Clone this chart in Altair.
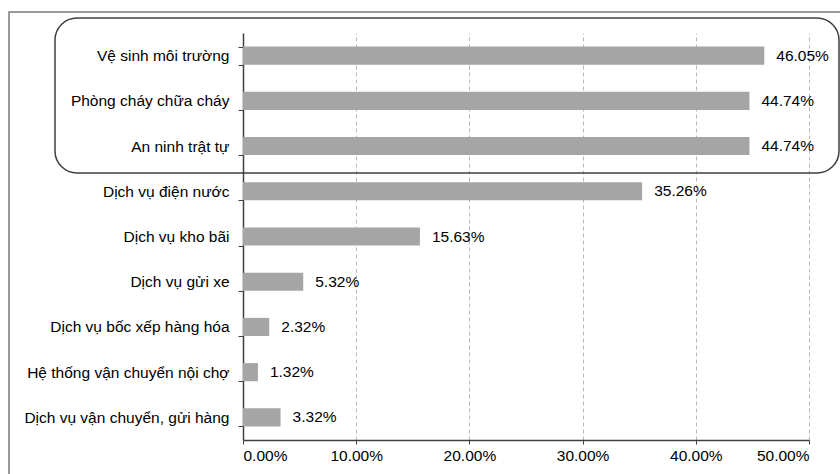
import altair as alt
import pandas as pd

categories = [
    "Vệ sinh môi trường",
    "Phòng cháy chữa cháy",
    "An ninh trật tự",
    "Dịch vụ điện nước",
    "Dịch vụ kho bãi",
    "Dịch vụ gửi xe",
    "Dịch vụ bốc xếp hàng hóa",
    "Hệ thống vận chuyển nội chợ",
    "Dịch vụ vận chuyển, gửi hàng",
]
values = [46.05, 44.74, 44.74, 35.26, 15.63, 5.32, 2.32, 1.32, 3.32]
x_ticks = [0, 10, 20, 30, 40, 50]

df = pd.DataFrame({"cat": categories, "val": values})
df["label"] = [f"{v:.2f}%" for v in values]

FONT = "Liberation Sans"
W, H = 566, 407

y_enc = alt.Y(
    "cat:N",
    sort=None,
    scale=alt.Scale(paddingInner=0.6, paddingOuter=0.3),
    axis=alt.Axis(
        title=None,
        tickBand="extent",
        tickSize=5,
        tickColor="#404040",
        domainColor="#404040",
        domainWidth=1.5,
        labelPadding=9,
        labelFont=FONT,
        labelFontSize=15.5,
        labelColor="#000000",
        labelLimit=300,
    ),
)
x_enc = alt.X(
    "val:Q",
    scale=alt.Scale(domain=[0, 50], nice=False),
    axis=alt.Axis(
        title=None,
        values=x_ticks,
        labelExpr="format(datum.value, '.2f') + '%'",
        grid=True,
        gridDash=[4, 3],
        gridColor="#b8b8b8",
        gridWidth=1,
        tickSize=4,
        tickColor="#404040",
        domainColor="#404040",
        domainWidth=1.5,
        labelPadding=4,
        labelFont=FONT,
        labelFontSize=15.5,
        labelColor="#000000",
    ),
)

bars = alt.Chart(df).mark_bar(color="#a5a5a5").encode(x=x_enc, y=y_enc)
texts = alt.Chart(df).mark_text(
    align="left", baseline="middle", dx=12, font=FONT, fontSize=15.5, color="#000000"
).encode(x="val:Q", y=alt.Y("cat:N", sort=None), text="label:N")

one = pd.DataFrame({"a": [0]})
outer = alt.Chart(one).mark_rect(
    fill="transparent", stroke="#7a7a7a", strokeWidth=1.5
).encode(x=alt.value(-234), x2=alt.value(700), y=alt.value(-21), y2=alt.value(480))
box = alt.Chart(one).mark_rect(
    fill="transparent", stroke="#404040", strokeWidth=1.5, cornerRadius=22
).encode(x=alt.value(-188), x2=alt.value(596), y=alt.value(-15), y2=alt.value(140))

chart = (
    alt.layer(outer, bars, texts, box)
    .properties(
        width=W,
        height=H,
        autosize=alt.AutoSizeParams(type="none"),
        padding={"left": 243, "top": 33, "right": 31, "bottom": 34},
        background="white",
    )
    .configure_view(stroke=None)
)

chart.save("out.html", embed_options={"renderer": "svg", "actions": False})
